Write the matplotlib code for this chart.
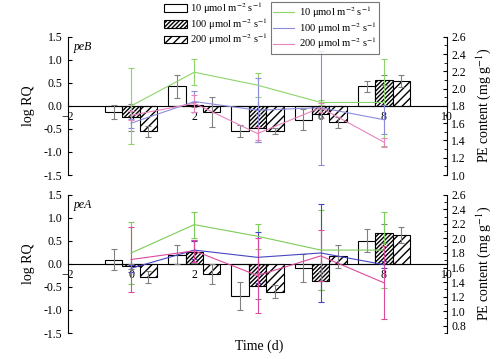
import matplotlib
matplotlib.use("Agg")
import matplotlib.pyplot as plt
import numpy as np
from matplotlib.patches import Patch
from matplotlib.lines import Line2D

plt.rcParams['font.family'] = ['Liberation Serif', 'DejaVu Serif']
plt.rcParams['mathtext.fontset'] = 'stix'
plt.rcParams['hatch.linewidth'] = 1.0

days = [0, 2, 4, 6, 8]
labels = [r'10 μmol m$^{-2}$ s$^{-1}$', r'100 μmol m$^{-2}$ s$^{-1}$', r'200 μmol m$^{-2}$ s$^{-1}$']

# peB
peB_rq_10 = [-0.13, 0.43, -0.55, -0.30, 0.43]
peB_rq_10_err = [0.15, 0.25, 0.13, 0.23, 0.12]
peB_rq_100 = [-0.25, 0.03, -0.48, -0.17, 0.56]
peB_rq_100_err = [0.30, 0.05, 0.30, 0.10, 0.10]
peB_rq_200 = [-0.55, -0.13, -0.55, -0.36, 0.54]
peB_rq_200_err = [0.12, 0.33, 0.07, 0.13, 0.13]
peB_pe_10 = [1.80, 2.19, 2.04, 1.84, 1.84]
peB_pe_10_err = [0.44, 0.15, 0.14, 0.03, 0.50]
peB_pe_100 = [1.60, 1.85, 1.75, 1.78, 1.64]
peB_pe_100_err = [0.05, 0.12, 0.37, 0.66, 0.17]
peB_pe_200 = [1.69, 1.83, 1.48, 1.78, 1.38]
peB_pe_200_err = [0.05, 0.10, 0.08, 0.05, 0.05]

# peA
peA_rq_10 = [0.09, 0.20, -0.69, -0.09, 0.50]
peA_rq_10_err = [0.23, 0.20, 0.30, 0.30, 0.25]
peA_rq_100 = [-0.05, 0.26, -0.48, -0.37, 0.66]
peA_rq_100_err = [0.05, 0.25, 0.28, 0.20, 0.20]
peA_rq_200 = [-0.29, -0.22, -0.60, 0.17, 0.63]
peA_rq_200_err = [0.13, 0.22, 0.14, 0.25, 0.18]
peA_pe_10 = [1.80, 2.19, 2.03, 1.84, 1.84]
peA_pe_10_err = [0.42, 0.18, 0.17, 0.55, 0.52]
peA_pe_100 = [1.59, 1.84, 1.74, 1.80, 1.64]
peA_pe_100_err = [0.05, 0.12, 0.35, 0.67, 0.05]
peA_pe_200 = [1.71, 1.83, 1.49, 1.76, 1.39]
peA_pe_200_err = [0.45, 0.15, 0.52, 0.35, 0.50]

fig = plt.figure(figsize=(5.03, 3.59), dpi=100)
ax1 = fig.add_axes([0.135, 0.5125, 0.754, 0.385])
ax2 = fig.add_axes([0.135, 0.0724, 0.754, 0.385])

bar_w = 0.55
hatches = ['', '////////', '////']
line_cols_top = ['#8fd46a', '#8c8cdc', '#e884bc']
line_cols_bot = ['#7ccc58', '#4646c0', '#dc4aa0']

def panel(ax, rq, rq_err, pe, pe_err, name, pe_lim, pe_cols):
    x = np.array(days, dtype=float)
    for i, (v, e) in enumerate(zip(rq, rq_err)):
        ax.bar(x + (i - 1) * bar_w, v, width=bar_w, facecolor='white',
               edgecolor='black', hatch=hatches[i], linewidth=0.8, zorder=2)
        ax.errorbar(x + (i - 1) * bar_w, v, yerr=e, fmt='none', ecolor='#808080',
                    elinewidth=0.8, capsize=2.5, capthick=0.8, zorder=3)
    ax.set_xlim(-2, 10)
    ax.set_ylim(-1.5, 1.5)
    ax.set_yticks([-1.5, -1.0, -0.5, 0.0, 0.5, 1.0, 1.5])
    ax.set_yticklabels(['-1.5', '-1.0', '-0.5', '0.0', '0.5', '1.0', '1.5'])
    ax.set_xticks([-2, 0, 2, 4, 6, 8, 10])
    ax.spines['top'].set_visible(False)
    ax.spines['right'].set_visible(False)
    ax.spines['bottom'].set_position(('data', 0))
    ax.tick_params(axis='y', direction='in', length=3, labelsize=8.5, pad=4)
    ax.tick_params(axis='x', direction='in', length=3, labelsize=8.5, pad=4)
    ax.set_ylabel('log RQ', fontsize=10, labelpad=6)
    ax.text(0.015, 0.97, name, transform=ax.transAxes, fontsize=8.5,
            style='italic', va='top', ha='left')
    ax.patch.set_visible(False)
    tw = ax.twinx()
    for i, (v, e) in enumerate(zip(pe, pe_err)):
        tw.errorbar(x, v, yerr=e, color=pe_cols[i], linewidth=0.8,
                    elinewidth=0.8, capsize=2.5, capthick=0.8)
    tw.set_ylim(*pe_lim)
    tw.yaxis.set_major_locator(plt.MultipleLocator(0.2))
    tw.yaxis.set_minor_locator(plt.MultipleLocator(0.1))
    tw.yaxis.set_major_formatter(plt.FormatStrFormatter('%.1f'))
    tw.spines['top'].set_visible(False)
    tw.spines['bottom'].set_visible(False)
    tw.spines['left'].set_visible(False)
    tw.tick_params(axis='y', which='major', direction='in', length=3, labelsize=8.5, pad=3)
    tw.tick_params(axis='y', which='minor', direction='in', length=2)
    tw.set_ylabel(r'PE content (mg g$^{-1}$)', fontsize=10, labelpad=6)
    return tw

panel(ax1, [peB_rq_10, peB_rq_100, peB_rq_200],
      [peB_rq_10_err, peB_rq_100_err, peB_rq_200_err],
      [peB_pe_10, peB_pe_100, peB_pe_200],
      [peB_pe_10_err, peB_pe_100_err, peB_pe_200_err], 'peB', (1.0, 2.6), line_cols_top)
panel(ax2, [peA_rq_10, peA_rq_100, peA_rq_200],
      [peA_rq_10_err, peA_rq_100_err, peA_rq_200_err],
      [peA_pe_10, peA_pe_100, peA_pe_200],
      [peA_pe_10_err, peA_pe_100_err, peA_pe_200_err], 'peA', (0.7, 2.6), line_cols_bot)

fig.text(0.515, 0.035, 'Time (d)', ha='center', va='center', fontsize=10)

bar_handles = [Patch(facecolor='white', edgecolor='black', hatch=h, linewidth=0.8) for h in hatches]
leg1 = fig.legend(bar_handles, labels, loc='upper left', bbox_to_anchor=(0.322, 1.005),
                  frameon=False, fontsize=7.6, handlelength=2.2, handleheight=0.75,
                  handletextpad=0.25, labelspacing=0.0, borderaxespad=0.0, borderpad=0.2)
line_handles = [Line2D([0], [0], color=c, linewidth=0.8) for c in line_cols_top]
leg2 = fig.legend(line_handles, labels, loc='upper left', bbox_to_anchor=(0.538, 0.995),
                  frameon=True, fancybox=False, edgecolor='#555555', fontsize=7.6,
                  handlelength=2.0, handletextpad=0.4, labelspacing=0.0,
                  borderpad=0.25, borderaxespad=0.0)
leg2.get_frame().set_linewidth(0.8)

fig.savefig('out.png', dpi=100)
